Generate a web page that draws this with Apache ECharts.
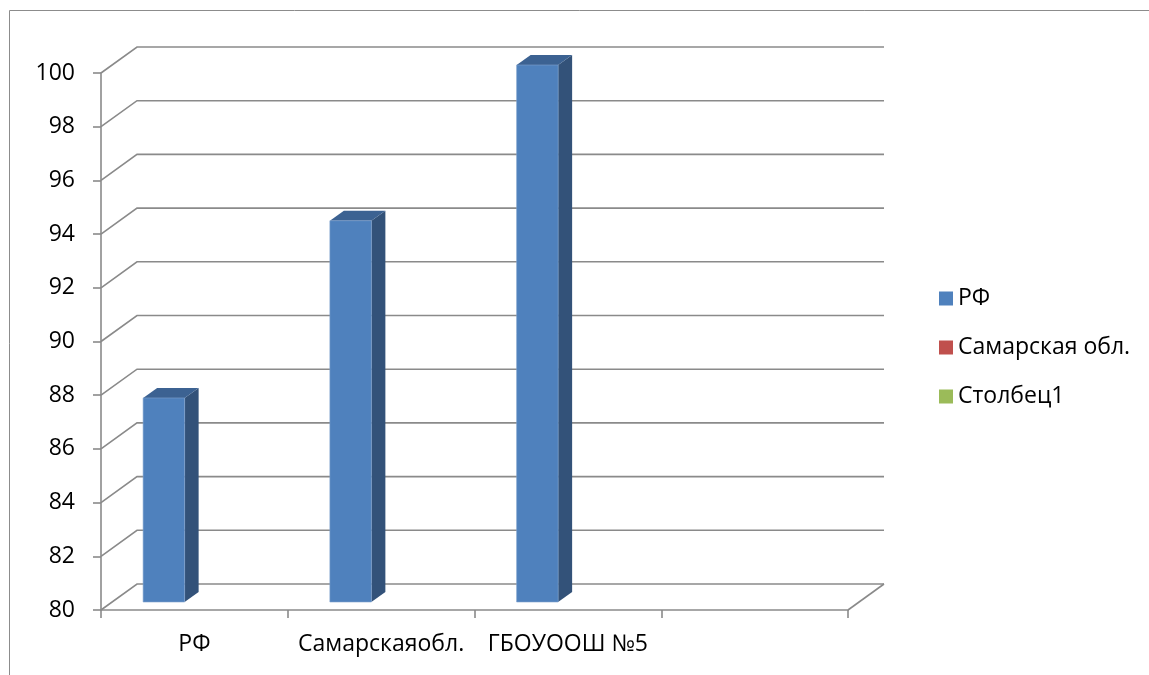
<!DOCTYPE html>
<html>
<head>
<meta charset="utf-8">
<script src="https://cdn.jsdelivr.net/npm/echarts@6/dist/echarts.min.js"></script>
<style>
  html, body { margin: 0; padding: 0; background: #fff; }
  #chart { width: 1149px; height: 675px; }
</style>
</head>
<body>
<div id="chart"></div>
<script>
// Categories along the floor (the last slot is an empty category)
const categories = ['РФ', 'Самарскаяобл.', 'ГБОУООШ №5', ''];
// Series names and values
const seriesNames = ['РФ', 'Самарская обл.', 'Столбец1'];
const valuesRF = [87.6, 94.2, 100];
const valuesSamara = [];
const valuesColumn1 = [];
// Value-axis ticks
const yMin = 80;
const yMax = 100;
const yStep = 2;
const yTicks = [80, 82, 84, 86, 88, 90, 92, 94, 96, 98, 100];

const FONT = 'Open Sans';
const FONT_SIZE = 23;
const palette = ['#4F81BD', '#C0504D', '#9BBB59'];
const sideShade = ['#335279', '#7E3331', '#667C3A'];
const topShade = ['#3C6292', '#93403D', '#788F45'];

// Oblique projection offsets (pixels): full floor depth, bar front plane, bar depth
const WALL_DX = 36, WALL_DY = -26;
const BAR_DX = 11, BAR_DY = -8;
const BAR_DEPTH_DX = 14, BAR_DEPTH_DY = -10;

function wallRender(params, api) {
  const cs = params.coordSys;
  const v = api.value(0);
  const y = api.coord([0, v])[1];
  const x0 = cs.x, x1 = cs.x + cs.width;
  const style = { stroke: '#8A8A8A', lineWidth: 1.6, fill: null };
  const children = [{
    type: 'polyline',
    shape: { points: [[x0, y], [x0 + WALL_DX, y + WALL_DY], [x1 + WALL_DX, y + WALL_DY]] },
    style: style
  }];
  if (v === yMin) {
    children.push({
      type: 'line',
      shape: { x1: x1, y1: y, x2: x1 + WALL_DX, y2: y + WALL_DY },
      style: style
    });
  }
  return { type: 'group', children: children };
}

function barRender(seriesPos) {
  return function (params, api) {
    const cat = api.value(0);
    const v = api.value(1);
    const catW = api.size([1, 0])[0];
    const clusterW = catW * 2 / 3;
    const barW = clusterW / 3;
    const pt = api.coord([cat, v]);
    const base = api.coord([cat, yMin]);
    const x = pt[0] - clusterW / 2 + seriesPos * barW + BAR_DX;
    const top = pt[1] + BAR_DY;
    const bottom = base[1] + BAR_DY;
    const dx = BAR_DEPTH_DX, dy = BAR_DEPTH_DY;
    return {
      type: 'group',
      children: [
        {
          type: 'polygon',
          shape: { points: [[x + barW, top], [x + barW + dx, top + dy], [x + barW + dx, bottom + dy], [x + barW, bottom]] },
          style: { fill: sideShade[seriesPos] }
        },
        {
          type: 'polygon',
          shape: { points: [[x, top], [x + dx, top + dy], [x + barW + dx, top + dy], [x + barW, top]] },
          style: { fill: topShade[seriesPos] }
        },
        {
          type: 'rect',
          shape: { x: x, y: top, width: barW, height: bottom - top },
          style: { fill: palette[seriesPos], stroke: '#7FA3CF', lineWidth: 0.6 }
        }
      ]
    };
  };
}

function toPairs(arr) {
  return arr.map(function (v, i) { return [i, v]; });
}

const chart = echarts.init(document.getElementById('chart'), null, { renderer: 'canvas' });

const option = {
  animation: false,
  color: palette,
  textStyle: { fontFamily: FONT },
  graphic: [{
    type: 'rect',
    shape: { x: 9.5, y: 10.5, width: 1200, height: 700 },
    style: { fill: null, stroke: '#8C8C8C', lineWidth: 1 },
    silent: true,
    z: -10
  }],
  legend: {
    orient: 'vertical',
    left: 939,
    top: 287,
    padding: 0,
    itemGap: 26,
    itemWidth: 14,
    itemHeight: 14,
    icon: 'rect',
    textStyle: { fontFamily: FONT, fontSize: FONT_SIZE, color: '#000' },
    data: seriesNames
  },
  grid: { left: 101, right: 301, top: 73, bottom: 65, containLabel: false },
  xAxis: {
    type: 'category',
    data: categories,
    boundaryGap: true,
    axisLine: { show: true, lineStyle: { color: '#8A8A8A', width: 1.6 } },
    axisTick: { show: true, alignWithLabel: false, length: 8, lineStyle: { color: '#8A8A8A', width: 1.6 } },
    axisLabel: { interval: 0, hideOverlap: false, margin: 23, fontFamily: FONT, fontSize: FONT_SIZE, color: '#000' },
    splitLine: { show: false }
  },
  yAxis: {
    type: 'value',
    min: yMin,
    max: yMax,
    interval: yStep,
    axisLine: { show: true, lineStyle: { color: '#8A8A8A', width: 1.6 } },
    axisTick: { show: true, length: 8, lineStyle: { color: '#8A8A8A', width: 1.6 } },
    axisLabel: { margin: 26, fontFamily: FONT, fontSize: FONT_SIZE, color: '#000' },
    splitLine: { show: false }
  },
  series: [
    {
      type: 'custom',
      name: 'walls',
      renderItem: wallRender,
      data: yTicks.map(function (t) { return [t]; }),
      encode: { y: 0 },
      silent: true,
      z: 1
    },
    {
      type: 'custom',
      name: seriesNames[0],
      renderItem: barRender(0),
      data: toPairs(valuesRF),
      encode: { x: 0, y: 1 },
      itemStyle: { color: palette[0] },
      z: 5
    },
    {
      type: 'custom',
      name: seriesNames[1],
      renderItem: barRender(1),
      data: toPairs(valuesSamara),
      encode: { x: 0, y: 1 },
      itemStyle: { color: palette[1] },
      z: 5
    },
    {
      type: 'custom',
      name: seriesNames[2],
      renderItem: barRender(2),
      data: toPairs(valuesColumn1),
      encode: { x: 0, y: 1 },
      itemStyle: { color: palette[2] },
      z: 5
    }
  ]
};

chart.setOption(option);
</script>
</body>
</html>
